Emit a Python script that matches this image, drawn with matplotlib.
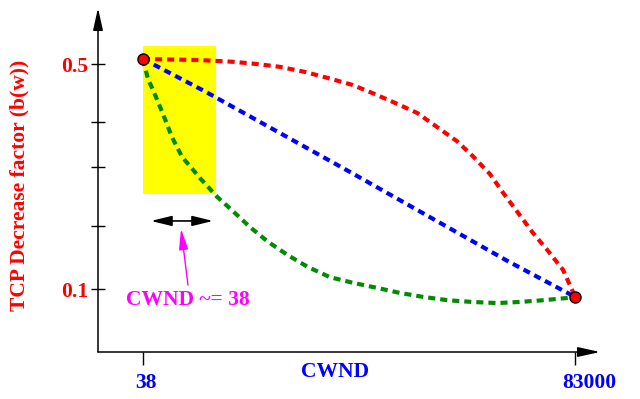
import matplotlib
matplotlib.use("Agg")
import matplotlib.pyplot as plt
from matplotlib.patches import Rectangle

# ---- data ----
red_x = [38, 11000, 17300, 21900, 26300, 31100, 35600, 40200, 44200, 48400, 52700,
         56500, 60300, 63400, 66700, 69200, 72100, 74900, 77800, 80700, 82500, 83000]
red_y = [0.509, 0.507, 0.504, 0.500, 0.495, 0.486, 0.475, 0.463, 0.448, 0.431, 0.413,
         0.388, 0.363, 0.336, 0.304, 0.271, 0.235, 0.200, 0.168, 0.134, 0.097, 0.086]

blue_x = [38, 12000, 40000, 70000, 83000]
blue_y = [0.509, 0.451, 0.307, 0.150, 0.086]

green_x = [38, 1000, 1960, 3880, 5600, 7530, 11000, 14250, 17130, 20590, 24040, 27880,
           31730, 35950, 40370, 44980, 49390, 53810, 58610, 63220, 68020, 72440, 76850,
           81460, 83000]
green_y = [0.509, 0.473, 0.454, 0.411, 0.370, 0.335, 0.297, 0.264, 0.240, 0.210, 0.184,
           0.160, 0.139, 0.121, 0.111, 0.102, 0.093, 0.086, 0.080, 0.077, 0.075, 0.077,
           0.080, 0.084, 0.086]

end_x = [38, 83000]
end_y = [0.509, 0.086]

box_x = [38, 14060]
box_y = [0.269, 0.532]

span_x = [1570, 13480]
span_y = 0.221

note_tail = (8680, 0.107)
note_head = (7340, 0.207)
note_text = "CWND ~= 38"

ytick_vals = [0.5, 0.397, 0.317, 0.212, 0.1]
ytick_labels = ["0.5", "", "", "", "0.1"]
xtick_vals = [38, 83000]
xtick_labels = ["38", "83000"]
xlabel = "CWND"
ylabel = "TCP Decrease factor (b(w))"

# ---- figure ----
W, H = 640, 399
fig = plt.figure(figsize=(W / 100, H / 100), dpi=100)
left, right, bottom, top = 98, 600, 352, 8
ax = fig.add_axes([left / W, 1 - bottom / H, (right - left) / W, (bottom - top) / H])
ax.set_xlim(-8604, 87800)
ax.set_ylim(-0.012, 0.5996)
for s in ax.spines.values():
    s.set_visible(False)

font = dict(family="Liberation Serif", weight="bold", size=15.5)

# axes with arrows
arr = dict(arrowstyle="-|>,head_length=0.9,head_width=0.2", color="black", lw=1.1,
           mutation_scale=15, shrinkA=0, shrinkB=0)
ax.annotate("", xy=(1, 0), xytext=(0, 0), xycoords="axes fraction", arrowprops=arr,
            annotation_clip=False)
ax.annotate("", xy=(0, 1), xytext=(0, 0), xycoords="axes fraction", arrowprops=arr,
            annotation_clip=False)

# y ticks
ax.set_yticks(ytick_vals)
ax.set_yticklabels(ytick_labels, color="red", **font)
ax.tick_params(axis="y", direction="inout", length=10, width=1, pad=2)

# x ticks
ax.set_xticks(xtick_vals)
ax.set_xticklabels([])
ax.tick_params(axis="x", direction="out", length=9.5, width=1)
for xv, lab, dx in zip(xtick_vals, xtick_labels, [2, 10]):
    ax.annotate(lab, xy=(xv, 0), xycoords=("data", "axes fraction"),
                xytext=(dx, -15), textcoords="offset points", ha="center", va="top",
                color="blue", annotation_clip=False, **font)

ax.text(36900, -0.0476, xlabel, ha="center", va="center", color="blue", **font)
ax.set_ylabel(ylabel, color="red", **font)
ax.yaxis.set_label_coords(-0.137, 0.485)

# yellow region
ax.add_patch(Rectangle((box_x[0], box_y[0]), box_x[1] - box_x[0], box_y[1] - box_y[0],
                       facecolor="#ffff00", edgecolor="none", zorder=1))

# curves
ls = (0, (1.7, 1.2))
ax.plot(red_x, red_y, color="#ff0000", lw=3, ls=ls, zorder=3, dash_capstyle="butt")
ax.plot(blue_x, blue_y, color="#0000ff", lw=3, ls=ls, zorder=3, dash_capstyle="butt")
ax.plot(green_x, green_y, color="#008c00", lw=3, ls=ls, zorder=3, dash_capstyle="butt")
ax.plot(end_x, end_y, ls="none", marker="o", ms=8, mfc="#ff0000", mec="black", mew=1,
        zorder=5, clip_on=False)

# double arrow for width
ax.annotate("", xy=(span_x[1], span_y), xytext=(span_x[0], span_y),
            arrowprops=dict(arrowstyle="<|-|>,head_length=0.9,head_width=0.22",
                            color="black", lw=1.2, mutation_scale=14,
                            shrinkA=0, shrinkB=0))

# magenta annotation
ax.annotate("", xy=note_head, xytext=note_tail,
            arrowprops=dict(arrowstyle="-|>,head_length=0.9,head_width=0.2",
                            color="#ff00ff", lw=1, mutation_scale=14,
                            shrinkA=0, shrinkB=0))
ax.text(8680, 0.080, note_text, ha="center", va="center", color="#ff00ff", **font)

fig.savefig("out.png", dpi=100)
